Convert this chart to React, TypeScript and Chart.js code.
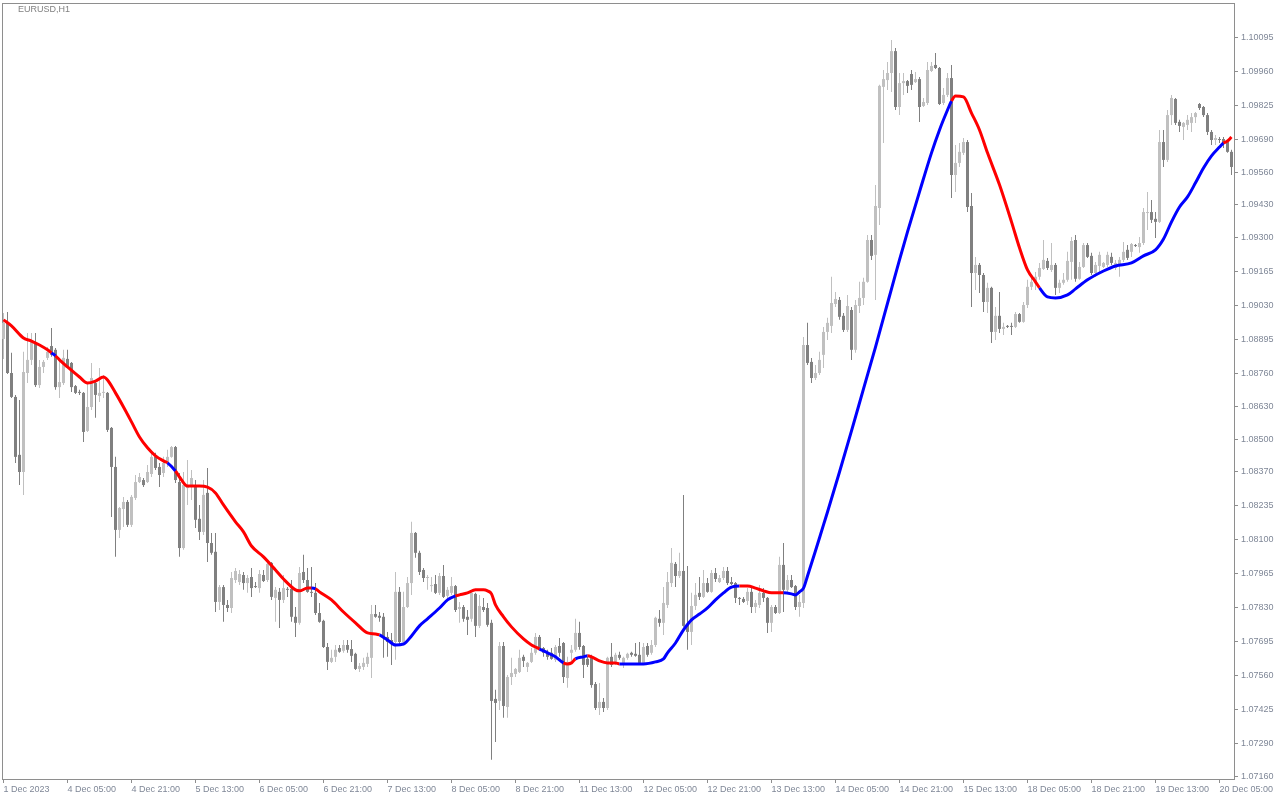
import React, { useEffect, useRef } from 'react';
import { Chart, registerables } from 'chart.js';

Chart.register(...registerables);

const symbolLabel = 'EURUSD,H1';

const tickBars = [0, 16, 32, 48, 64, 80, 96, 112, 128, 144, 160, 176, 192, 208, 224, 240, 256, 272, 288, 304];
const tickLabels = ['1 Dec 2023', '4 Dec 05:00', '4 Dec 21:00', '5 Dec 13:00', '6 Dec 05:00', '6 Dec 21:00', '7 Dec 13:00', '8 Dec 05:00', '8 Dec 21:00', '11 Dec 13:00', '12 Dec 05:00', '12 Dec 21:00', '13 Dec 13:00', '14 Dec 05:00', '14 Dec 21:00', '15 Dec 13:00', '18 Dec 05:00', '18 Dec 21:00', '19 Dec 13:00', '20 Dec 05:00'];

const priceTicks = [1.07160, 1.07290, 1.07425, 1.07560, 1.07695, 1.07830, 1.07965, 1.08100, 1.08235, 1.08370, 1.08500, 1.08630, 1.08760, 1.08895, 1.09030, 1.09165, 1.09300, 1.09430, 1.09560, 1.09690, 1.09825, 1.09960, 1.10095];

const open = [
  1.08898,1.08966,1.08763,1.08668,1.08438,1.08370,1.08763,1.08815,1.08886,1.08715,
  1.08787,1.08823,1.08870,1.08855,1.08707,1.08723,1.08819,1.08803,1.08711,1.08688,
  1.08684,1.08533,1.08628,1.08723,1.08672,1.08684,1.08684,1.08545,1.08390,1.08140,
  1.08223,1.08251,1.08160,1.08267,1.08330,1.08338,1.08330,1.08362,1.08430,1.08390,
  1.08366,1.08406,1.08430,1.08469,1.08330,1.08068,1.08306,1.08314,1.08318,1.08184,
  1.08132,1.08287,1.08088,1.08053,1.07854,1.07913,1.07842,1.07830,1.07941,1.07933,
  1.07961,1.07929,1.07953,1.07917,1.07909,1.07961,1.07941,1.08009,1.07870,1.07894,
  1.07862,1.07906,1.07906,1.07795,1.07771,1.07973,1.07941,1.07894,1.07890,1.07810,
  1.07779,1.07675,1.07616,1.07636,1.07671,1.07660,1.07683,1.07667,1.07648,1.07588,
  1.07596,1.07608,1.07632,1.07806,1.07799,1.07795,1.07715,1.07703,1.07695,1.07894,
  1.07695,1.07834,1.07929,1.08128,1.08049,1.07981,1.07949,1.07917,1.07925,1.07890,
  1.07957,1.07878,1.07890,1.07917,1.07826,1.07834,1.07795,1.07787,1.07886,1.07759,
  1.07834,1.07830,1.07771,1.07469,1.07461,1.07679,1.07437,1.07556,1.07568,1.07576,
  1.07636,1.07596,1.07616,1.07652,1.07715,1.07671,1.07656,1.07652,1.07624,1.07679,
  1.07691,1.07552,1.07652,1.07664,1.07731,1.07679,1.07628,1.07636,1.07528,1.07433,
  1.07457,1.07433,1.07636,1.07616,1.07644,1.07612,1.07632,1.07652,1.07648,1.07644,
  1.07612,1.07679,1.07652,1.07683,1.07787,1.07771,1.07842,1.07929,1.08005,1.07957,
  1.07977,1.07763,1.07735,1.07838,1.07890,1.07874,1.07929,1.07894,1.07969,1.07933,
  1.07949,1.07977,1.07933,1.07929,1.07870,1.07866,1.07858,1.07894,1.07834,1.07842,
  1.07890,1.07870,1.07771,1.07834,1.07810,1.08001,1.07902,1.07941,1.07917,1.07834,
  1.07850,1.08874,1.08807,1.08743,1.08763,1.08835,1.08926,1.08950,1.09037,1.09053,
  1.08990,1.08934,1.09013,1.08855,1.09029,1.09061,1.09125,1.09291,1.09232,1.09418,
  1.09899,1.09926,1.09954,1.10041,1.09819,1.09914,1.09922,1.09950,1.09918,1.09930,
  1.09823,1.09835,1.09962,1.09986,1.09974,1.09835,1.09867,1.09934,1.09549,1.09597,
  1.09637,1.09680,1.09426,1.09160,1.09192,1.09152,1.09045,1.09101,1.08926,1.08990,
  1.08938,1.08950,1.08950,1.08946,1.08997,1.08966,1.09033,1.09105,1.09125,1.09145,
  1.09176,1.09208,1.09172,1.09192,1.09101,1.09121,1.09133,1.09204,1.09291,1.09137,
  1.09184,1.09271,1.09228,1.09160,1.09188,1.09184,1.09192,1.09224,1.09180,1.09192,
  1.09212,1.09252,1.09244,1.09271,1.09263,1.09279,1.09398,1.09402,1.09375,1.09363,
  1.09680,1.09609,1.09787,1.09851,1.09760,1.09740,1.09748,1.09756,1.09779,1.09831,
  1.09819,1.09787,1.09720,1.09688,1.09692,1.09692,1.09680,1.09641,
];

const high = [
  1.09001,1.09005,1.08843,1.08676,1.08656,1.08847,1.08922,1.08922,1.08922,1.08815,
  1.08815,1.08866,1.08942,1.08862,1.08815,1.08855,1.08855,1.08807,1.08715,1.08696,
  1.08688,1.08723,1.08803,1.08735,1.08783,1.08755,1.08688,1.08549,1.08430,1.08231,
  1.08271,1.08259,1.08279,1.08358,1.08366,1.08346,1.08398,1.08450,1.08446,1.08406,
  1.08430,1.08458,1.08473,1.08473,1.08366,1.08370,1.08418,1.08378,1.08338,1.08239,
  1.08338,1.08386,1.08128,1.08128,1.07921,1.07921,1.07862,1.07973,1.07989,1.07981,
  1.07973,1.07961,1.07989,1.07933,1.07981,1.07981,1.08013,1.08013,1.07913,1.07909,
  1.07961,1.07913,1.07941,1.07834,1.07993,1.08041,1.07989,1.07993,1.07929,1.07850,
  1.07783,1.07691,1.07664,1.07683,1.07683,1.07703,1.07703,1.07703,1.07652,1.07612,
  1.07632,1.07652,1.07842,1.07842,1.07814,1.07810,1.07735,1.07731,1.07973,1.07913,
  1.07894,1.07953,1.08172,1.08132,1.08057,1.07989,1.07961,1.07953,1.07961,1.07969,
  1.08001,1.07913,1.07953,1.07921,1.07854,1.07842,1.07822,1.07894,1.07890,1.07882,
  1.07870,1.07850,1.07783,1.07505,1.07695,1.07695,1.07564,1.07632,1.07592,1.07664,
  1.07644,1.07616,1.07671,1.07731,1.07723,1.07675,1.07664,1.07671,1.07683,1.07711,
  1.07695,1.07636,1.07683,1.07787,1.07775,1.07683,1.07636,1.07644,1.07536,1.07532,
  1.07473,1.07636,1.07691,1.07652,1.07656,1.07636,1.07652,1.07656,1.07691,1.07695,
  1.07691,1.07691,1.07703,1.07795,1.07822,1.07913,1.07973,1.08068,1.08013,1.08049,
  1.08279,1.07997,1.07890,1.07929,1.07953,1.07981,1.07949,1.07981,1.07989,1.07961,
  1.07993,1.07993,1.07953,1.07933,1.07874,1.07874,1.07909,1.07909,1.07862,1.07921,
  1.07909,1.07874,1.07842,1.07842,1.08033,1.08088,1.07961,1.07961,1.07921,1.07882,
  1.08906,1.08962,1.08823,1.08795,1.08847,1.08946,1.08982,1.09145,1.09085,1.09065,
  1.09001,1.09073,1.09025,1.09053,1.09125,1.09141,1.09311,1.09311,1.09509,1.09907,
  1.09966,1.09998,1.10085,1.10053,1.09954,1.09954,1.09926,1.09966,1.09958,1.09938,
  1.09855,1.09998,1.09998,1.10033,1.09978,1.09895,1.09954,1.09986,1.09668,1.09676,
  1.09696,1.09688,1.09478,1.09224,1.09200,1.09160,1.09121,1.09105,1.09025,1.09085,
  1.08962,1.08954,1.08962,1.09005,1.09001,1.09045,1.09133,1.09145,1.09164,1.09200,
  1.09291,1.09220,1.09279,1.09200,1.09133,1.09160,1.09244,1.09303,1.09311,1.09204,
  1.09279,1.09279,1.09240,1.09204,1.09244,1.09204,1.09244,1.09240,1.09212,1.09224,
  1.09283,1.09271,1.09279,1.09275,1.09303,1.09418,1.09482,1.09450,1.09402,1.09728,
  1.09728,1.09807,1.09867,1.09855,1.09768,1.09760,1.09787,1.09795,1.09799,1.09835,
  1.09823,1.09795,1.09728,1.09708,1.09700,1.09700,1.09688,1.09649,
];

const low = [
  1.08819,1.08759,1.08664,1.08406,1.08318,1.08279,1.08723,1.08795,1.08707,1.08703,
  1.08763,1.08815,1.08827,1.08696,1.08664,1.08715,1.08783,1.08688,1.08680,1.08676,
  1.08489,1.08529,1.08616,1.08585,1.08648,1.08664,1.08529,1.08191,1.08033,1.08108,
  1.08152,1.08152,1.08152,1.08259,1.08326,1.08310,1.08326,1.08350,1.08378,1.08310,
  1.08350,1.08390,1.08426,1.08326,1.08033,1.08061,1.08239,1.08259,1.08148,1.08100,
  1.08120,1.08013,1.08041,1.07814,1.07822,1.07775,1.07814,1.07810,1.07929,1.07921,
  1.07902,1.07890,1.07874,1.07909,1.07890,1.07933,1.07933,1.07862,1.07775,1.07751,
  1.07850,1.07874,1.07775,1.07715,1.07763,1.07929,1.07890,1.07874,1.07802,1.07771,
  1.07671,1.07584,1.07612,1.07616,1.07652,1.07652,1.07652,1.07616,1.07584,1.07576,
  1.07584,1.07596,1.07552,1.07791,1.07775,1.07632,1.07636,1.07604,1.07624,1.07683,
  1.07683,1.07830,1.07882,1.08029,1.07961,1.07933,1.07902,1.07894,1.07886,1.07882,
  1.07870,1.07862,1.07882,1.07814,1.07771,1.07775,1.07723,1.07775,1.07715,1.07751,
  1.07814,1.07755,1.07227,1.07298,1.07425,1.07394,1.07394,1.07524,1.07556,1.07572,
  1.07596,1.07576,1.07612,1.07644,1.07664,1.07636,1.07624,1.07624,1.07616,1.07636,
  1.07532,1.07513,1.07612,1.07656,1.07664,1.07552,1.07596,1.07513,1.07425,1.07405,
  1.07417,1.07425,1.07596,1.07604,1.07624,1.07592,1.07624,1.07636,1.07636,1.07604,
  1.07604,1.07636,1.07644,1.07675,1.07755,1.07723,1.07830,1.07913,1.07913,1.07949,
  1.07755,1.07664,1.07683,1.07822,1.07862,1.07870,1.07890,1.07890,1.07933,1.07929,
  1.07941,1.07921,1.07921,1.07850,1.07842,1.07850,1.07842,1.07810,1.07810,1.07830,
  1.07854,1.07731,1.07735,1.07806,1.07806,1.07814,1.07890,1.07909,1.07822,1.07795,
  1.07830,1.08795,1.08723,1.08735,1.08755,1.08783,1.08894,1.08922,1.09025,1.08974,
  1.08926,1.08926,1.08815,1.08843,1.09001,1.09033,1.09121,1.09212,1.09053,1.09351,
  1.09676,1.09887,1.09879,1.09807,1.09787,1.09867,1.09875,1.09887,1.09914,1.09760,
  1.09819,1.09827,1.09958,1.09970,1.09827,1.09827,1.09859,1.09458,1.09482,1.09581,
  1.09629,1.09402,1.09025,1.09093,1.09081,1.09005,1.09001,1.08882,1.08894,1.08922,
  1.08914,1.08942,1.08914,1.08942,1.08962,1.08962,1.09021,1.09093,1.09093,1.09133,
  1.09172,1.09172,1.09164,1.09073,1.09081,1.09113,1.09125,1.09133,1.09125,1.09133,
  1.09180,1.09220,1.09152,1.09145,1.09164,1.09180,1.09184,1.09192,1.09172,1.09145,
  1.09204,1.09212,1.09224,1.09263,1.09240,1.09271,1.09331,1.09359,1.09299,1.09359,
  1.09581,1.09601,1.09748,1.09748,1.09720,1.09688,1.09728,1.09720,1.09756,1.09807,
  1.09779,1.09708,1.09668,1.09668,1.09676,1.09656,1.09637,1.09549,
];

const close = [
  1.08962,1.08763,1.08668,1.08430,1.08370,1.08767,1.08815,1.08886,1.08715,1.08787,
  1.08807,1.08847,1.08835,1.08707,1.08727,1.08823,1.08787,1.08707,1.08684,1.08684,
  1.08529,1.08628,1.08743,1.08676,1.08684,1.08688,1.08537,1.08390,1.08140,1.08227,
  1.08251,1.08160,1.08271,1.08330,1.08350,1.08318,1.08370,1.08430,1.08386,1.08358,
  1.08406,1.08430,1.08469,1.08338,1.08068,1.08318,1.08318,1.08346,1.08180,1.08132,
  1.08279,1.08088,1.08049,1.07854,1.07913,1.07842,1.07830,1.07949,1.07977,1.07965,
  1.07929,1.07949,1.07909,1.07913,1.07965,1.07937,1.08005,1.07874,1.07902,1.07862,
  1.07909,1.07902,1.07795,1.07771,1.07969,1.07941,1.07894,1.07890,1.07810,1.07775,
  1.07675,1.07616,1.07632,1.07664,1.07656,1.07683,1.07664,1.07640,1.07588,1.07600,
  1.07612,1.07636,1.07806,1.07795,1.07791,1.07715,1.07695,1.07687,1.07894,1.07695,
  1.07834,1.07929,1.08128,1.08049,1.07973,1.07949,1.07953,1.07921,1.07890,1.07957,
  1.07874,1.07902,1.07917,1.07822,1.07834,1.07787,1.07783,1.07890,1.07759,1.07838,
  1.07822,1.07763,1.07461,1.07453,1.07679,1.07441,1.07556,1.07572,1.07588,1.07632,
  1.07620,1.07612,1.07652,1.07715,1.07671,1.07652,1.07636,1.07628,1.07675,1.07652,
  1.07556,1.07616,1.07664,1.07731,1.07675,1.07604,1.07604,1.07524,1.07433,1.07457,
  1.07433,1.07632,1.07604,1.07644,1.07632,1.07632,1.07648,1.07644,1.07640,1.07612,
  1.07675,1.07644,1.07683,1.07791,1.07771,1.07850,1.07933,1.08009,1.07957,1.07977,
  1.07759,1.07735,1.07838,1.07882,1.07874,1.07929,1.07894,1.07969,1.07945,1.07949,
  1.07977,1.07929,1.07925,1.07870,1.07866,1.07854,1.07894,1.07834,1.07850,1.07890,
  1.07870,1.07771,1.07834,1.07810,1.08001,1.07902,1.07941,1.07913,1.07834,1.07854,
  1.08874,1.08803,1.08743,1.08763,1.08815,1.08926,1.08962,1.09041,1.09057,1.08986,
  1.08934,1.09029,1.08855,1.09033,1.09061,1.09125,1.09291,1.09228,1.09426,1.09903,
  1.09930,1.09954,1.10041,1.09819,1.09914,1.09922,1.09903,1.09907,1.09930,1.09819,
  1.09839,1.09966,1.09982,1.09974,1.09831,1.09867,1.09934,1.09549,1.09597,1.09641,
  1.09680,1.09422,1.09160,1.09192,1.09152,1.09045,1.09101,1.08926,1.08990,1.08938,
  1.08946,1.08946,1.08946,1.08997,1.08966,1.09033,1.09105,1.09125,1.09145,1.09180,
  1.09212,1.09180,1.09192,1.09101,1.09121,1.09133,1.09208,1.09287,1.09137,1.09184,
  1.09271,1.09224,1.09160,1.09192,1.09232,1.09200,1.09232,1.09200,1.09200,1.09212,
  1.09244,1.09220,1.09275,1.09267,1.09279,1.09402,1.09402,1.09371,1.09363,1.09680,
  1.09609,1.09787,1.09855,1.09756,1.09744,1.09756,1.09768,1.09779,1.09795,1.09815,
  1.09787,1.09720,1.09688,1.09696,1.09688,1.09676,1.09641,1.09581,
];

const maBars = [0,2,5,7,9,11,12,13,14,16,19,21,23,25,26,28,30,32,34,36,38,40,41,43,44,46,49,51,53,55,58,60,62,65,68,70,73,74,76,77,78,79,82,85,88,91,93,94,96,98,100,102,104,106,109,111,113,114,116,118,120,121,122,123,125,127,130,132,133,134,136,138,140,141,142,143,145,146,147,149,151,153,154,157,160,163,165,166,168,170,172,174,176,178,180,182,184,186,188,190,192,194,195,197,198,199,200,201,203,205,206,209,212,215,218,220,222,224,226,229,232,234,236,237,238,240,242,244,246,249,252,254,256,258,259,261,263,266,268,271,275,278,282,285,288,290,292,294,296,298,300,302,304,305,306,307];

const maValues = [1.08974,1.08950,1.08902,1.08890,1.08874,1.08855,1.08843,1.08831,1.08815,1.08787,1.08747,1.08723,1.08731,1.08747,1.08735,1.08684,1.08628,1.08569,1.08509,1.08466,1.08434,1.08414,1.08406,1.08374,1.08350,1.08314,1.08314,1.08310,1.08287,1.08239,1.08172,1.08132,1.08076,1.08033,1.07981,1.07945,1.07902,1.07898,1.07909,1.07909,1.07906,1.07894,1.07862,1.07814,1.07771,1.07731,1.07727,1.07723,1.07703,1.07683,1.07687,1.07719,1.07759,1.07787,1.07830,1.07862,1.07878,1.07882,1.07890,1.07902,1.07902,1.07898,1.07886,1.07842,1.07795,1.07755,1.07707,1.07683,1.07675,1.07667,1.07652,1.07636,1.07612,1.07608,1.07612,1.07628,1.07636,1.07640,1.07636,1.07620,1.07612,1.07612,1.07608,1.07608,1.07608,1.07616,1.07628,1.07652,1.07691,1.07743,1.07783,1.07806,1.07830,1.07862,1.07890,1.07913,1.07917,1.07917,1.07909,1.07898,1.07890,1.07890,1.07890,1.07886,1.07882,1.07894,1.07909,1.07957,1.08057,1.08160,1.08211,1.08370,1.08533,1.08700,1.08866,1.08982,1.09097,1.09212,1.09323,1.09482,1.09637,1.09728,1.09807,1.09843,1.09863,1.09859,1.09795,1.09728,1.09637,1.09510,1.09363,1.09260,1.09172,1.09125,1.09101,1.09065,1.09061,1.09073,1.09097,1.09133,1.09168,1.09188,1.09200,1.09228,1.09252,1.09295,1.09363,1.09422,1.09462,1.09518,1.09577,1.09625,1.09660,1.09676,1.09684,1.09700];

// bar ranges where the indicator is drawn blue (price above the average)
const maBlueRanges = [[12, 13], [41, 43], [77, 78], [94, 113], [134, 140], [143, 146], [154, 183], [195, 237], [259, 305]];

const BULL = '#c0c0c0';
const BEAR = '#808080';
const FRAME = '#8e8e8e';
const TEXT = '#7f8797';
const FONT = '"Liberation Sans", Arial, sans-serif';

export default function App() {
  const ref = useRef<HTMLCanvasElement>(null);

  useEffect(() => {
    const canvas = ref.current;
    if (!canvas) return;
    const n = close.length;
    const idx = Array.from({ length: n }, (_, i) => i);
    const colors = idx.map((i) => (close[i] > open[i] ? BULL : BEAR));
    const wickData = idx.map((i) => ({ x: i, y: [low[i], high[i]] }));
    const bodyData = idx.map((i) => ({ x: i, y: [Math.min(open[i], close[i]), Math.max(open[i], close[i])] }));
    const maData = maBars.map((b, k) => ({ x: b, y: maValues[k] }));
    const inBlue = (v: number) => maBlueRanges.some(([a, b]) => v >= a && v <= b);

    const framePlugin = {
      id: 'mtFrame',
      beforeDatasetsDraw(chart: any) {
        const { ctx, chartArea: a } = chart;
        ctx.save();
        ctx.strokeStyle = FRAME;
        ctx.lineWidth = 1;
        ctx.strokeRect(Math.round(a.left) + 0.5, Math.round(a.top) + 0.5, Math.round(a.right - a.left), Math.round(a.bottom - a.top));
        ctx.fillStyle = '#808080';
        ctx.font = '9px ' + FONT;
        ctx.textBaseline = 'middle';
        ctx.textAlign = 'left';
        ctx.fillText(symbolLabel, 18, 10);
        ctx.restore();
      },
    };

    const chart = new Chart(canvas, {
      type: 'bar',
      data: {
        datasets: [
          {
            type: 'line',
            data: maData,
            borderWidth: 3,
            borderColor: '#ff0000',
            pointRadius: 0,
            cubicInterpolationMode: 'monotone',
            borderCapStyle: 'butt',
            segment: {
              borderColor: (ctx: any) => (inBlue((ctx.p0.parsed.x + ctx.p1.parsed.x) / 2) ? '#0000ff' : '#ff0000'),
            },
            order: 0,
          } as any,
          {
            type: 'bar',
            data: bodyData as any,
            backgroundColor: colors,
            borderWidth: 0,
            barThickness: 3,
            minBarLength: 1,
            grouped: false,
            inflateAmount: 0,
            order: 1,
          } as any,
          {
            type: 'bar',
            data: wickData as any,
            backgroundColor: colors,
            borderWidth: 0,
            barThickness: 1,
            minBarLength: 1,
            grouped: false,
            inflateAmount: 0,
            order: 2,
          } as any,
        ],
      },
      options: {
        responsive: false,
        maintainAspectRatio: false,
        animation: false,
        devicePixelRatio: 1,
        events: [],
        layout: { padding: { left: 2, top: 3, right: 0, bottom: 0 } },
        plugins: { legend: { display: false }, tooltip: { enabled: false }, title: { display: false } },
        scales: {
          x: {
            type: 'linear',
            min: -0.375,
            max: 307.625,
            offset: false,
            grid: { drawOnChartArea: false, drawTicks: true, tickLength: 4, color: FRAME, offset: false },
            border: { display: false },
            afterBuildTicks: (s: any) => {
              s.ticks = tickBars.map((v) => ({ value: v }));
            },
            afterFit: (s: any) => {
              s.height = 21;
              s.paddingLeft = 0;
              s.paddingRight = 0;
            },
            ticks: {
              align: 'start',
              autoSkip: false,
              maxRotation: 0,
              minRotation: 0,
              padding: 1,
              color: TEXT,
              font: { family: FONT, size: 9 },
              callback: (_v: any, i: number) => tickLabels[i],
            },
          },
          y: {
            type: 'linear',
            position: 'right',
            min: 1.07151,
            max: 1.10232,
            beginAtZero: false,
            grid: { drawOnChartArea: false, drawTicks: true, tickLength: 4, color: FRAME },
            border: { display: false },
            afterBuildTicks: (s: any) => {
              s.ticks = priceTicks.map((v) => ({ value: v }));
            },
            afterFit: (s: any) => {
              s.width = 46;
              s.paddingTop = 0;
              s.paddingBottom = 0;
            },
            ticks: {
              padding: 3,
              color: TEXT,
              font: { family: FONT, size: 9 },
              callback: (v: any) => Number(v).toFixed(5),
            },
          },
        },
      } as any,
      plugins: [framePlugin],
    });

    return () => chart.destroy();
  }, []);

  return (
    <div style={{ position: 'absolute', left: 0, top: 0, width: 1280, height: 800, background: '#ffffff' }}>
      <canvas ref={ref} width={1280} height={800} style={{ display: 'block' }} />
    </div>
  );
}
